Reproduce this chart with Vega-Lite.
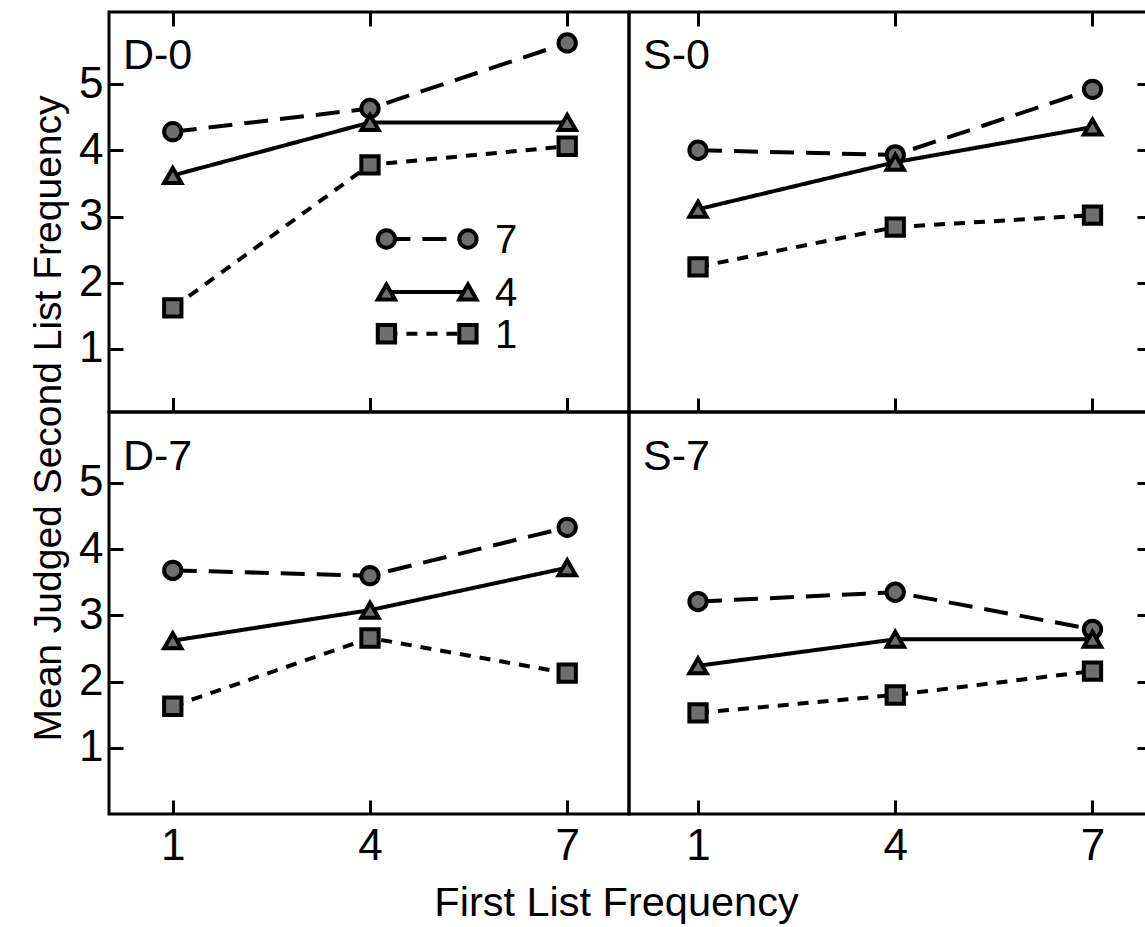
{
  "$schema": "https://vega.github.io/schema/vega-lite/v6.json",
  "background": "white",
  "padding": {"left": 27, "top": 9, "right": 0, "bottom": 0},
  "datasets": {
    "pts": [
      {"panel": "D-0", "series": "7", "x": 1, "y": 4.28},
      {"panel": "D-0", "series": "7", "x": 4, "y": 4.63},
      {"panel": "D-0", "series": "7", "x": 7, "y": 5.62},
      {"panel": "D-0", "series": "4", "x": 1, "y": 3.62},
      {"panel": "D-0", "series": "4", "x": 4, "y": 4.42},
      {"panel": "D-0", "series": "4", "x": 7, "y": 4.42},
      {"panel": "D-0", "series": "1", "x": 1, "y": 1.62},
      {"panel": "D-0", "series": "1", "x": 4, "y": 3.78},
      {"panel": "D-0", "series": "1", "x": 7, "y": 4.06},
      {"panel": "S-0", "series": "7", "x": 1, "y": 4.0},
      {"panel": "S-0", "series": "7", "x": 4, "y": 3.93},
      {"panel": "S-0", "series": "7", "x": 7, "y": 4.92},
      {"panel": "S-0", "series": "4", "x": 1, "y": 3.11},
      {"panel": "S-0", "series": "4", "x": 4, "y": 3.82},
      {"panel": "S-0", "series": "4", "x": 7, "y": 4.35},
      {"panel": "S-0", "series": "1", "x": 1, "y": 2.24},
      {"panel": "S-0", "series": "1", "x": 4, "y": 2.84},
      {"panel": "S-0", "series": "1", "x": 7, "y": 3.02},
      {"panel": "D-7", "series": "7", "x": 1, "y": 3.68},
      {"panel": "D-7", "series": "7", "x": 4, "y": 3.6},
      {"panel": "D-7", "series": "7", "x": 7, "y": 4.33},
      {"panel": "D-7", "series": "4", "x": 1, "y": 2.62},
      {"panel": "D-7", "series": "4", "x": 4, "y": 3.08},
      {"panel": "D-7", "series": "4", "x": 7, "y": 3.72},
      {"panel": "D-7", "series": "1", "x": 1, "y": 1.63},
      {"panel": "D-7", "series": "1", "x": 4, "y": 2.66},
      {"panel": "D-7", "series": "1", "x": 7, "y": 2.13},
      {"panel": "S-7", "series": "7", "x": 1, "y": 3.21},
      {"panel": "S-7", "series": "7", "x": 4, "y": 3.35},
      {"panel": "S-7", "series": "7", "x": 7, "y": 2.79},
      {"panel": "S-7", "series": "4", "x": 1, "y": 2.24},
      {"panel": "S-7", "series": "4", "x": 4, "y": 2.64},
      {"panel": "S-7", "series": "4", "x": 7, "y": 2.64},
      {"panel": "S-7", "series": "1", "x": 1, "y": 1.53},
      {"panel": "S-7", "series": "1", "x": 4, "y": 1.8},
      {"panel": "S-7", "series": "1", "x": 7, "y": 2.16}
    ],
    "key": [
      {"series": "7", "x": 4.25, "y": 2.66},
      {"series": "7", "x": 5.49, "y": 2.66},
      {"series": "4", "x": 4.25, "y": 1.86},
      {"series": "4", "x": 5.49, "y": 1.86},
      {"series": "1", "x": 4.25, "y": 1.23},
      {"series": "1", "x": 5.49, "y": 1.23}
    ],
    "keylabel": [
      {"series": "7", "x": 5.9, "y": 2.66},
      {"series": "4", "x": 5.9, "y": 1.86},
      {"series": "1", "x": 5.9, "y": 1.23}
    ]
  },
  "columns": 2,
  "spacing": 0,
  "bounds": "flush",
  "resolve": {"scale": {"x": "independent", "y": "independent"}},
  "concat": [
    {
      "width": 520,
      "height": 400,
      "title": {"text": "D-0", "anchor": "start", "frame": "group", "orient": "top", "offset": -67, "dx": 14, "baseline": "top"},
      "encoding": {
        "x": {"field": "x", "type": "quantitative", "scale": {"domain": [0.03, 7.94], "nice": false, "zero": false}, "axis": {"orient": "bottom", "values": [1, 4, 7], "labels": false, "title": null}},
        "y": {"field": "y", "type": "quantitative", "scale": {"domain": [0.049, 6.087], "nice": false, "zero": false}, "axis": {"orient": "left", "values": [1, 2, 3, 4, 5], "labelPadding": 20, "title": "Mean Judged Second List Frequency", "titleX": -49, "titleY": 406, "titleAngle": 270, "titleAlign": "center", "titleBaseline": "alphabetic", "titleFontSize": 39}}
      },
      "layer": [
        {
          "data": {"name": "pts"},
          "transform": [{"filter": "datum.panel === 'D-0'"}],
          "mark": {"type": "line", "color": "black", "strokeWidth": 4},
          "encoding": {
            "strokeDash": {"field": "series", "type": "nominal", "scale": {"domain": ["7", "4", "1"], "range": [[24, 12], [1, 0], [11, 9]]}, "legend": null},
            "detail": {"field": "series"}
          }
        },
        {
          "data": {"name": "pts"},
          "transform": [{"filter": "datum.panel === 'D-0'"}],
          "mark": {"type": "point", "filled": true, "fill": "#6e6e6e", "stroke": "black", "strokeWidth": 4, "size": 300, "opacity": 1},
          "encoding": {
            "x": {"field": "x", "type": "quantitative", "axis": {"orient": "top", "values": [1, 4, 7], "labels": false, "title": null}},
            "shape": {"field": "series", "type": "nominal", "scale": {"domain": ["7", "4", "1"], "range": ["circle", "triangle-up", "square"]}, "legend": null}
          }
        },
        {
          "data": {"name": "key"},
          "mark": {"type": "line", "color": "black", "strokeWidth": 4},
          "encoding": {
            "strokeDash": {"field": "series", "type": "nominal", "legend": null},
            "detail": {"field": "series"}
          }
        },
        {
          "data": {"name": "key"},
          "mark": {"type": "point", "filled": true, "fill": "#6e6e6e", "stroke": "black", "strokeWidth": 4, "size": 300, "opacity": 1},
          "encoding": {
            "shape": {"field": "series", "type": "nominal", "legend": null}
          }
        },
        {
          "data": {"name": "keylabel"},
          "mark": {"type": "text", "align": "left", "baseline": "middle", "fontSize": 40, "font": "Liberation Sans", "color": "black", "dy": 2},
          "encoding": {
            "text": {"field": "series"}
          }
        }
      ]
    },
    {
      "width": 522,
      "height": 400,
      "title": {"text": "S-0", "anchor": "start", "frame": "group", "orient": "top", "offset": -67, "dx": 14, "baseline": "top"},
      "encoding": {
        "x": {"field": "x", "type": "quantitative", "scale": {"domain": [-0.05, 7.89], "nice": false, "zero": false}, "axis": {"orient": "bottom", "values": [1, 4, 7], "labels": false, "title": null}},
        "y": {"field": "y", "type": "quantitative", "scale": {"domain": [0.049, 6.087], "nice": false, "zero": false}, "axis": {"orient": "right", "values": [1, 2, 3, 4, 5], "labels": false, "title": null}}
      },
      "layer": [
        {
          "data": {"name": "pts"},
          "transform": [{"filter": "datum.panel === 'S-0'"}],
          "mark": {"type": "line", "color": "black", "strokeWidth": 4},
          "encoding": {
            "strokeDash": {"field": "series", "type": "nominal", "scale": {"domain": ["7", "4", "1"], "range": [[24, 12], [1, 0], [11, 9]]}, "legend": null},
            "detail": {"field": "series"}
          }
        },
        {
          "data": {"name": "pts"},
          "transform": [{"filter": "datum.panel === 'S-0'"}],
          "mark": {"type": "point", "filled": true, "fill": "#6e6e6e", "stroke": "black", "strokeWidth": 4, "size": 300, "opacity": 1},
          "encoding": {
            "x": {"field": "x", "type": "quantitative", "axis": {"orient": "top", "values": [1, 4, 7], "labels": false, "title": null}},
            "shape": {"field": "series", "type": "nominal", "scale": {"domain": ["7", "4", "1"], "range": ["circle", "triangle-up", "square"]}, "legend": null}
          }
        }
      ]
    },
    {
      "width": 520,
      "height": 402,
      "title": {"text": "D-7", "anchor": "start", "frame": "group", "orient": "top", "offset": -67, "dx": 14, "baseline": "top"},
      "encoding": {
        "x": {"field": "x", "type": "quantitative", "scale": {"domain": [0.03, 7.94], "nice": false, "zero": false}, "axis": {"orient": "bottom", "values": [1, 4, 7], "labelPadding": 24, "title": "First List Frequency", "titleX": 507, "titleY": 101, "titleAlign": "center", "titleBaseline": "alphabetic", "titleFontSize": 41.5}},
        "y": {"field": "y", "type": "quantitative", "scale": {"domain": [0.004, 6.07], "nice": false, "zero": false}, "axis": {"orient": "left", "values": [1, 2, 3, 4, 5], "labelPadding": 20, "title": null}}
      },
      "layer": [
        {
          "data": {"name": "pts"},
          "transform": [{"filter": "datum.panel === 'D-7'"}],
          "mark": {"type": "line", "color": "black", "strokeWidth": 4},
          "encoding": {
            "strokeDash": {"field": "series", "type": "nominal", "scale": {"domain": ["7", "4", "1"], "range": [[24, 12], [1, 0], [11, 9]]}, "legend": null},
            "detail": {"field": "series"}
          }
        },
        {
          "data": {"name": "pts"},
          "transform": [{"filter": "datum.panel === 'D-7'"}],
          "mark": {"type": "point", "filled": true, "fill": "#6e6e6e", "stroke": "black", "strokeWidth": 4, "size": 300, "opacity": 1},
          "encoding": {
            "shape": {"field": "series", "type": "nominal", "scale": {"domain": ["7", "4", "1"], "range": ["circle", "triangle-up", "square"]}, "legend": null}
          }
        }
      ]
    },
    {
      "width": 522,
      "height": 402,
      "title": {"text": "S-7", "anchor": "start", "frame": "group", "orient": "top", "offset": -67, "dx": 14, "baseline": "top"},
      "encoding": {
        "x": {"field": "x", "type": "quantitative", "scale": {"domain": [-0.05, 7.89], "nice": false, "zero": false}, "axis": {"orient": "bottom", "values": [1, 4, 7], "labelPadding": 24, "title": null}},
        "y": {"field": "y", "type": "quantitative", "scale": {"domain": [0.004, 6.07], "nice": false, "zero": false}, "axis": {"orient": "right", "values": [1, 2, 3, 4, 5], "labels": false, "title": null}}
      },
      "layer": [
        {
          "data": {"name": "pts"},
          "transform": [{"filter": "datum.panel === 'S-7'"}],
          "mark": {"type": "line", "color": "black", "strokeWidth": 4},
          "encoding": {
            "strokeDash": {"field": "series", "type": "nominal", "scale": {"domain": ["7", "4", "1"], "range": [[24, 12], [1, 0], [11, 9]]}, "legend": null},
            "detail": {"field": "series"}
          }
        },
        {
          "data": {"name": "pts"},
          "transform": [{"filter": "datum.panel === 'S-7'"}],
          "mark": {"type": "point", "filled": true, "fill": "#6e6e6e", "stroke": "black", "strokeWidth": 4, "size": 300, "opacity": 1},
          "encoding": {
            "shape": {"field": "series", "type": "nominal", "scale": {"domain": ["7", "4", "1"], "range": ["circle", "triangle-up", "square"]}, "legend": null}
          }
        }
      ]
    }
  ],
  "config": {
    "font": "Liberation Sans",
    "view": {"stroke": "black", "strokeWidth": 3},
    "axis": {"domain": false, "grid": false, "tickColor": "black", "tickWidth": 3, "tickSize": -14, "labelFont": "Liberation Sans", "labelFontSize": 44, "labelColor": "black", "titleFont": "Liberation Sans", "titleColor": "black", "titleFontWeight": "normal"},
    "title": {"font": "Liberation Sans", "fontSize": 43, "fontWeight": "normal", "color": "black"}
  }
}
